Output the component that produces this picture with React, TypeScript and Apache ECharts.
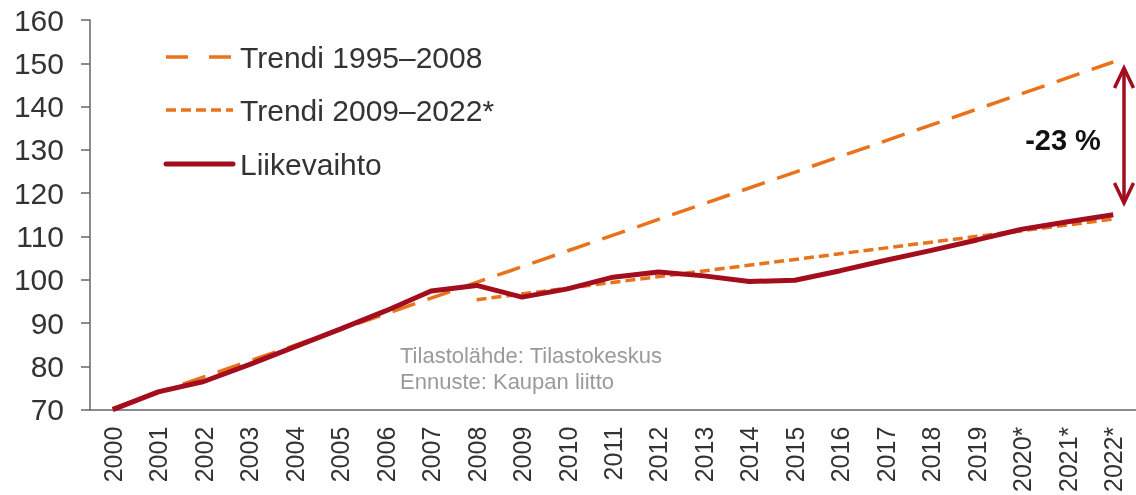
import React, { useEffect, useRef } from "react";
import * as echarts from "echarts";

const categories = [
  "2000", "2001", "2002", "2003", "2004", "2005", "2006", "2007", "2008", "2009",
  "2010", "2011", "2012", "2013", "2014", "2015", "2016", "2017", "2018", "2019",
  "2020*", "2021*", "2022*",
];

const liikevaihto = [
  70, 74.1, 76.5, 80.4, 84.5, 88.6, 92.8, 97.4, 98.7, 96.0,
  97.9, 100.6, 101.8, 100.9, 99.6, 99.9, 102.1, 104.5, 106.8, 109.2,
  111.7, 113.4, 115.0,
];

// Trend lines: straight lines defined by their end points
const trendi1995Start = { category: "2000", value: 70.3 };
const trendi1995End = { category: "2022*", value: 150.3 };
const trendi2009Start = { category: "2008", value: 95.4 };
const trendi2009End = { category: "2022*", value: 114.0 };

const yTicks = { min: 70, max: 160, interval: 10 };

const seriesNames = ["Trendi 1995–2008", "Trendi 2009–2022*", "Liikevaihto"];
const sourceLines = ["Tilastolähde: Tilastokeskus", "Ennuste: Kaupan liitto"];
const gapLabel = "-23 %";

const ORANGE = "#e8731c";
const DARKRED = "#a30d1d";
const FONT = "Arial, 'Liberation Sans', sans-serif";

const LONG_DASH = [24, 13];
const SHORT_DASH = [10, 5];

function endpointSeries(start: { category: string; value: number }, end: { category: string; value: number }) {
  return categories.map((c) =>
    c === start.category ? start.value : c === end.category ? end.value : null
  );
}

const legendRows = [
  { name: seriesNames[0], y: 57, stroke: ORANGE, width: 3.5, dash: [22, 21] },
  { name: seriesNames[1], y: 110, stroke: ORANGE, width: 3.5, dash: SHORT_DASH },
  { name: seriesNames[2], y: 164, stroke: DARKRED, width: 5, dash: null as number[] | null },
];

export default function App() {
  const ref = useRef<HTMLDivElement>(null);
  useEffect(() => {
    if (!ref.current) return;
    const chart = echarts.init(ref.current, null, { renderer: "svg" });
    const legendGraphics: any[] = [];
    legendRows.forEach((r) => {
      legendGraphics.push({
        type: "line",
        shape: { x1: 166, y1: r.y, x2: 233, y2: r.y },
        style: {
          stroke: r.stroke,
          lineWidth: r.width,
          lineDash: r.dash || undefined,
          lineCap: r.dash ? "butt" : "round",
        },
      });
      legendGraphics.push({
        type: "text",
        x: 240,
        y: r.y,
        style: {
          text: r.name,
          fontSize: 30,
          fill: "#333",
          verticalAlign: "middle",
          fontFamily: FONT,
        },
      });
    });
    chart.setOption({
      animation: false,
      textStyle: { fontFamily: FONT },
      grid: { left: 90, top: 20, width: 1048, bottom: 85, containLabel: false },
      xAxis: {
        type: "category",
        data: categories,
        boundaryGap: true,
        axisLine: { lineStyle: { color: "#666", width: 1.5 } },
        axisTick: { length: 7, lineStyle: { color: "#666", width: 1.5 } },
        axisLabel: { rotate: 90, fontSize: 25, color: "#333", margin: 17, fontFamily: FONT },
        splitLine: { show: false },
      },
      yAxis: {
        type: "value",
        min: yTicks.min,
        max: yTicks.max,
        interval: yTicks.interval,
        axisLine: { show: true, lineStyle: { color: "#666", width: 1.5 } },
        axisTick: { show: true, length: 9, lineStyle: { color: "#666", width: 1.5 } },
        axisLabel: { fontSize: 30, color: "#333", margin: 26, fontFamily: FONT },
        splitLine: { show: false },
      },
      series: [
        {
          name: seriesNames[0],
          type: "line",
          data: endpointSeries(trendi1995Start, trendi1995End),
          connectNulls: true,
          symbol: "none",
          lineStyle: { color: ORANGE, width: 3.5, type: LONG_DASH },
          itemStyle: { color: ORANGE },
          z: 2,
        },
        {
          name: seriesNames[1],
          type: "line",
          data: endpointSeries(trendi2009Start, trendi2009End),
          connectNulls: true,
          symbol: "none",
          lineStyle: { color: ORANGE, width: 3.5, type: SHORT_DASH },
          itemStyle: { color: ORANGE },
          z: 2,
        },
        {
          name: seriesNames[2],
          type: "line",
          data: liikevaihto,
          symbol: "none",
          lineStyle: { color: DARKRED, width: 5 },
          itemStyle: { color: DARKRED },
          z: 3,
        },
      ],
      graphic: [
        ...legendGraphics,
        {
          type: "text",
          left: 400,
          top: 342,
          style: {
            text: sourceLines.join("\n"),
            fontSize: 22,
            lineHeight: 26,
            fill: "#9a9a9a",
            fontFamily: FONT,
          },
        },
        {
          type: "text",
          x: 1063,
          y: 140,
          style: {
            text: gapLabel,
            fontSize: 29,
            fontWeight: "bold",
            fill: "#111",
            align: "center",
            verticalAlign: "middle",
            fontFamily: FONT,
          },
        },
        {
          type: "line",
          shape: { x1: 1124, y1: 69, x2: 1124, y2: 202 },
          style: { stroke: DARKRED, lineWidth: 3.5 },
        },
        {
          type: "polyline",
          shape: { points: [[1114.5, 88], [1124, 68], [1133.5, 88]] },
          style: { stroke: DARKRED, lineWidth: 3.5, fill: "none" },
        },
        {
          type: "polyline",
          shape: { points: [[1114.5, 183], [1124, 203], [1133.5, 183]] },
          style: { stroke: DARKRED, lineWidth: 3.5, fill: "none" },
        },
      ],
    });
    return () => chart.dispose();
  }, []);
  return (
    <div
      ref={ref}
      style={{ position: "fixed", left: 0, top: 0, width: 1136, height: 495 }}
    />
  );
}
